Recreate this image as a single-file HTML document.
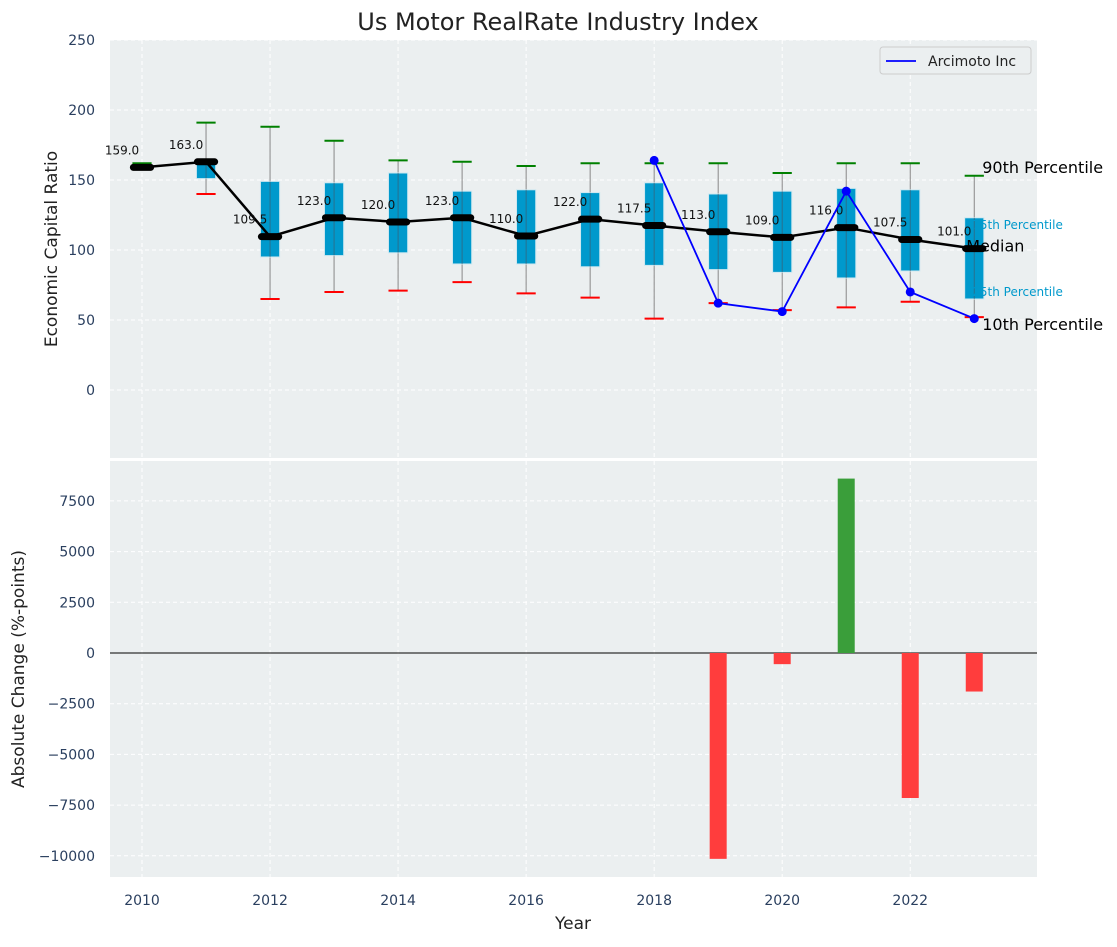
<!DOCTYPE html>
<html><head><meta charset="utf-8"><style>
html,body{margin:0;padding:0;background:#fff;}
svg text{font-family:"DejaVu Sans","Liberation Sans",sans-serif;}
</style></head><body>
<svg id="chart" width="1117" height="942" xmlns="http://www.w3.org/2000/svg">
<text x="558" y="30" text-anchor="middle" font-size="24" fill="#222">Us Motor RealRate Industry Index</text>
<g id="topPanel"></g>
<g id="botPanel"></g>
</svg>
<script>
const years=[2010,2011,2012,2013,2014,2015,2016,2017,2018,2019,2020,2021,2022,2023];
const medians=[159,163,109.5,123,120,123,110,122,117.5,113,109,116,107.5,101];
const q1=[159,151,95,96,98,90,90,88,89,86,84,80,85,65];
const q3=[159,163,149,148,155,142,143,141,148,140,142,144,143,123];
const p10=[159,140,65,70,71,77,69,66,51,62,57,59,63,52];
const p90=[162,191,188,178,164,163,160,162,162,162,155,162,162,153];
const arcYears=[2018,2019,2020,2021,2022,2023];
const arcVals=[164,62,56,142,70,51];
const barYears=[2019,2020,2021,2022,2023];
const barVals=[-10150,-550,8600,-7150,-1900];
const topTicks=[0,50,100,150,200,250];
const botTicks=[-10000,-7500,-5000,-2500,0,2500,5000,7500];
const xTicks=[2010,2012,2014,2016,2018,2020,2022];

const NS="http://www.w3.org/2000/svg";
const L=110,R=1037;
const x=v=>L+(v-2009.5)/(2023.98-2009.5)*(R-L);
const T0=40,T1=458,B0=461,B1=877;
const yT=v=>T0+(250-v)/(250+48.6)*(T1-T0);
const yB=v=>B0+(9467-v)/(9467+11045)*(B1-B0);
function mk(p,tag,a,txt){const e=document.createElementNS(NS,tag);for(const k in a)e.setAttribute(k,a[k]);if(txt!==undefined)e.textContent=txt;p.appendChild(e);return e;}
const topG=document.getElementById('topPanel'),botG=document.getElementById('botPanel');
let e;

e=mk(topG,'rect',{x:L,y:T0,width:R-L,height:T1-T0,fill:'#ebeff0'});


e=mk(botG,'rect',{x:L,y:B0,width:R-L,height:B1-B0,fill:'#ebeff0'});



xTicks.forEach(t=>{
 mk(topG,'line',{x1:x(t),x2:x(t),y1:T0,y2:T1,stroke:'#fff','stroke-dasharray':'4,3','stroke-width':1});
 mk(botG,'line',{x1:x(t),x2:x(t),y1:B0,y2:B1,stroke:'#fff','stroke-dasharray':'4,3','stroke-width':1});
 e=mk(botG,'text',{x:x(t),y:905,'text-anchor':'middle','font-size':14,fill:'#2a3f5f'},String(t));
 
 
});
topTicks.forEach(t=>{
 mk(topG,'line',{x1:L,x2:R,y1:yT(t),y2:yT(t),stroke:'#fff','stroke-dasharray':'4,3','stroke-width':1});
 e=mk(topG,'text',{x:95,y:yT(t)+5,'text-anchor':'end','font-size':14,fill:'#2a3f5f'},String(t));
 
 
});
botTicks.forEach(t=>{
 mk(botG,'line',{x1:L,x2:R,y1:yB(t),y2:yB(t),stroke:'#fff','stroke-dasharray':'4,3','stroke-width':1});
 e=mk(botG,'text',{x:95,y:yB(t)+5,'text-anchor':'end','font-size':14,fill:'#2a3f5f'},t<0?'\u2212'+(-t):String(t));
 
 
});

const bw=x(2010.15)-x(2010);
years.forEach((yr,i)=>{
 const cx=x(yr);
 mk(topG,'line',{x1:cx,x2:cx,y1:yT(p90[i]),y2:yT(p10[i]),stroke:'#888','stroke-width':1});
 e=mk(topG,'rect',{x:cx-bw,y:yT(q3[i]),width:2*bw,height:Math.max(0,yT(q1[i])-yT(q3[i])),fill:'#0099cc',stroke:'#cfe8f0','stroke-width':1});
 
 
 mk(topG,'line',{x1:cx,x2:cx,y1:yT(q3[i]),y2:yT(q1[i]),stroke:'#456','stroke-width':1,opacity:0.6});
 mk(topG,'line',{x1:cx-bw,x2:cx+bw,y1:yT(p90[i]),y2:yT(p90[i]),stroke:'green','stroke-width':2});
 mk(topG,'line',{x1:cx-bw,x2:cx+bw,y1:yT(p10[i]),y2:yT(p10[i]),stroke:'red','stroke-width':2});
});
e=mk(topG,'polyline',{points:years.map((yr,i)=>x(yr)+','+yT(medians[i])).join(' '),fill:'none',stroke:'#000','stroke-width':2.5});


years.forEach((yr,i)=>{
 const cx=x(yr),cy=yT(medians[i]);
 mk(topG,'line',{x1:cx-bw*0.9,x2:cx+bw*0.9,y1:cy,y2:cy,stroke:'#000','stroke-width':7,'stroke-linecap':'round'});
 e=mk(topG,'text',{x:cx-20,y:cy-13,'text-anchor':'middle','font-size':12,fill:'#111'},medians[i].toFixed(1));
 
 
});
e=mk(topG,'polyline',{points:arcYears.map((yr,i)=>x(yr)+','+yT(arcVals[i])).join(' '),fill:'none',stroke:'blue','stroke-width':1.8});


arcYears.forEach((yr,i)=>{
 e=mk(topG,'circle',{cx:x(yr),cy:yT(arcVals[i]),r:4.5,fill:'blue'});
 
 
});
const ax=x(2023);
[[q3[13],'75th Percentile',12,'#0099cc',-2,11],[q1[13],'25th Percentile',12,'#0099cc',-2,-3],[p90[13],'90th Percentile',16,'#000',8,-3],[medians[13],'Median',16,'#000',-8,3],[p10[13],'10th Percentile',16,'#000',8,13]].forEach(a=>{
 e=mk(topG,'text',{x:ax+a[4],y:yT(a[0])+a[5],'font-size':a[2],fill:a[3]},a[1]);
 
 
});
e=mk(topG,'g',{});


mk(e,'rect',{x:880,y:47,width:151,height:27,fill:'#ebeff0',stroke:'#ccc',rx:3});
mk(e,'line',{x1:886,x2:916,y1:61,y2:61,stroke:'blue','stroke-width':1.8});
mk(e,'text',{x:928,y:66,'font-size':14,fill:'#222'},'Arcimoto Inc');

mk(botG,'line',{x1:L,x2:R,y1:yB(0),y2:yB(0),stroke:'#000','stroke-width':1});
barYears.forEach((yr,i)=>{
 const v=barVals[i],y0=yB(0),y1=yB(v);
 e=mk(botG,'rect',{x:x(yr)-8.5,y:Math.min(y0,y1),width:17,height:Math.abs(y1-y0),fill:v>=0?'#3a9e3a':'#ff3d3d'});
 
 
});

e=mk(topG,'text',{x:57,y:249,'text-anchor':'middle','font-size':17,fill:'#222',transform:'rotate(-90 57 249)'},'Economic Capital Ratio');


e=mk(botG,'text',{x:24,y:669,'text-anchor':'middle','font-size':17,fill:'#222',transform:'rotate(-90 24 669)'},'Absolute Change (%-points)');


e=mk(botG,'text',{x:573,y:929,'text-anchor':'middle','font-size':17,fill:'#222'},'Year');


</script>
</body></html>
